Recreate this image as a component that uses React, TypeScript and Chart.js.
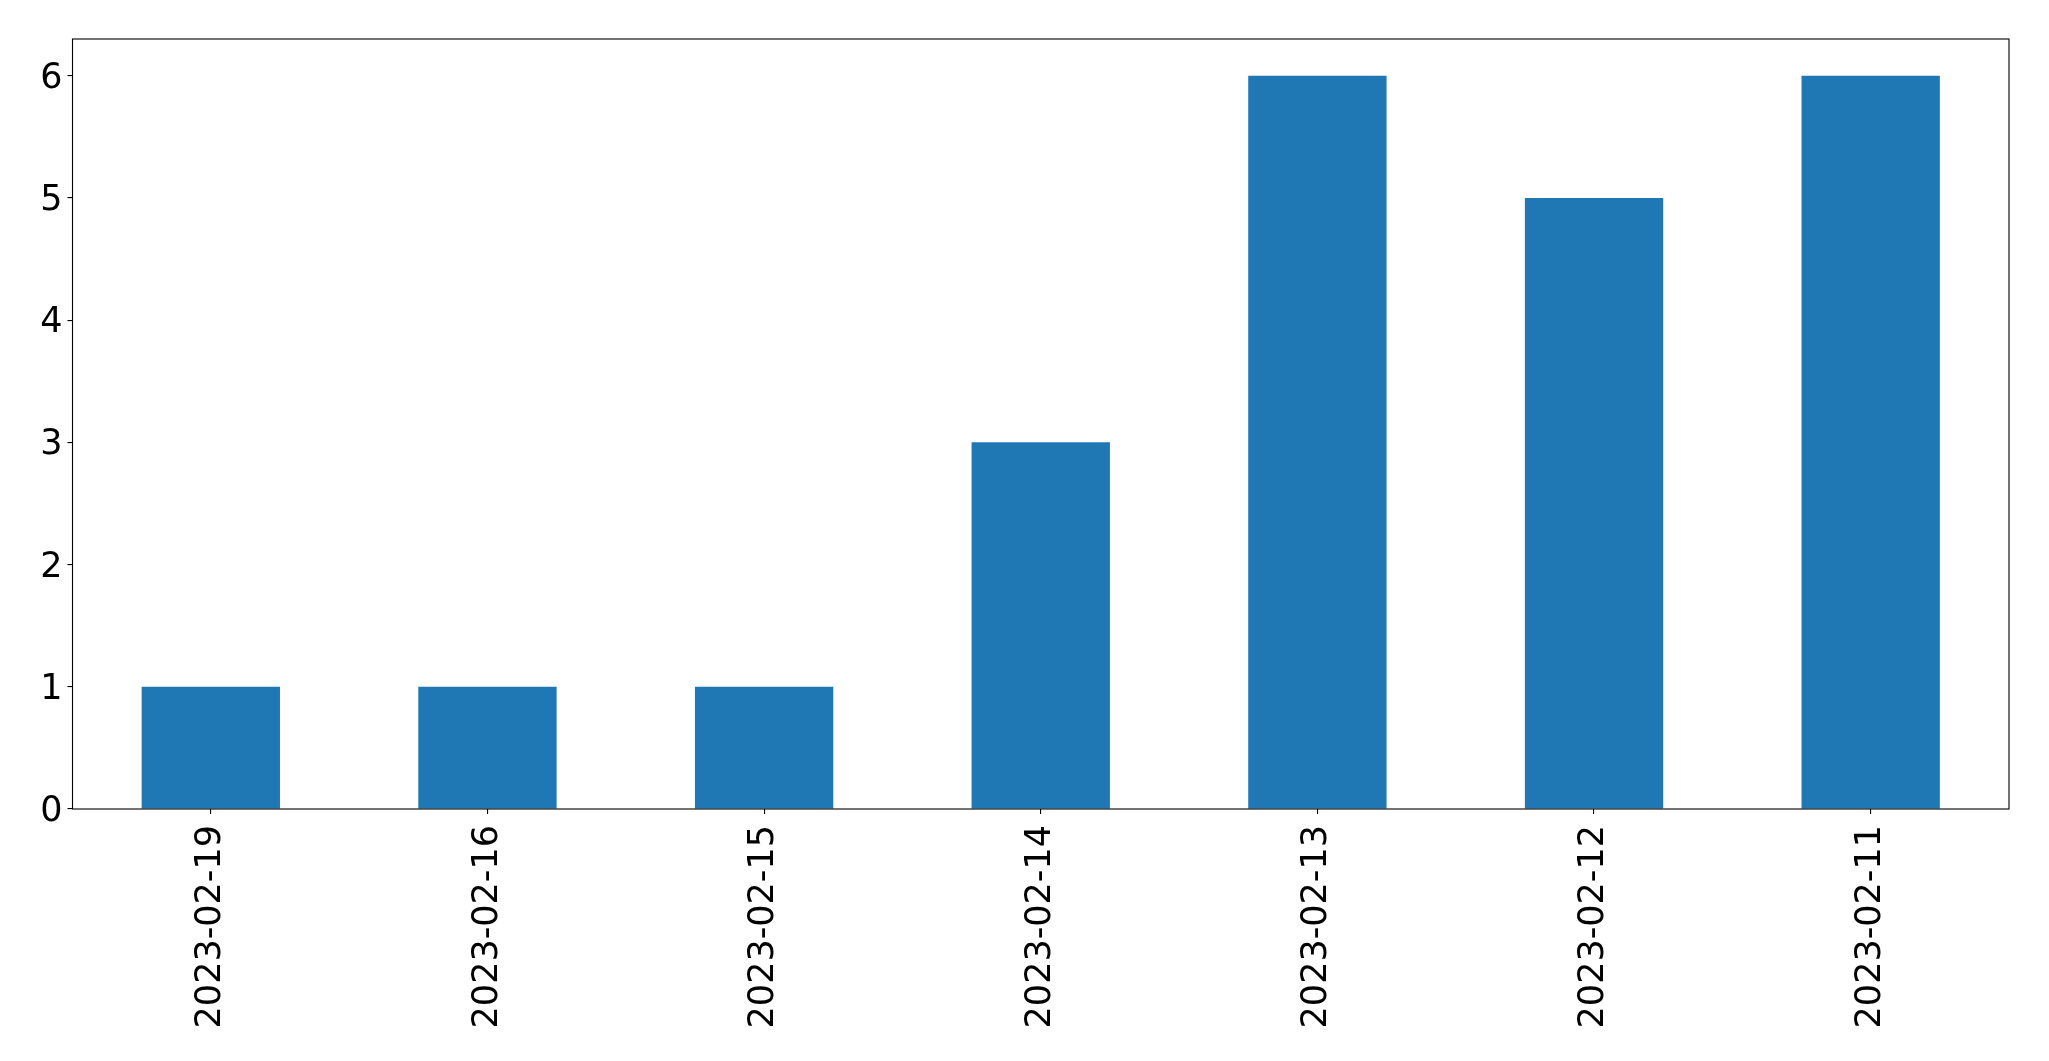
import React, { useEffect, useRef } from "react";
import { Chart, registerables } from "chart.js";

Chart.register(...registerables);

const categories = [
  "2023-02-19",
  "2023-02-16",
  "2023-02-15",
  "2023-02-14",
  "2023-02-13",
  "2023-02-12",
  "2023-02-11",
];
const counts = [1, 1, 1, 3, 6, 5, 6];
const yTicks = [0, 1, 2, 3, 4, 5, 6];
const yMax = 6.3;

const W = 2049;
const H = 1061;

const framePlugin = {
  id: "frame",
  afterDraw(chart: any) {
    const { ctx, chartArea } = chart;
    ctx.save();
    ctx.strokeStyle = "#000";
    ctx.lineWidth = 1.1;
    ctx.strokeRect(
      chartArea.left,
      chartArea.top,
      chartArea.right - chartArea.left,
      chartArea.bottom - chartArea.top
    );
    ctx.restore();
  },
};

export default function App() {
  const ref = useRef<HTMLCanvasElement | null>(null);

  useEffect(() => {
    if (!ref.current) return;
    const font = { family: "'DejaVu Sans', sans-serif", size: 35 };
    const chart = new Chart(ref.current, {
      type: "bar",
      data: {
        labels: categories,
        datasets: [
          {
            data: counts,
            backgroundColor: "#1f77b4",
            borderWidth: 0,
            barPercentage: 0.5,
            categoryPercentage: 1.0,
          },
        ],
      },
      options: {
        responsive: false,
        animation: false,
        devicePixelRatio: 1,
        layout: { padding: { top: 39, right: 40, left: 0, bottom: 0 } },
        plugins: {
          legend: { display: false },
          tooltip: { enabled: false },
        },
        scales: {
          x: {
            type: "category",
            offset: true,
            grid: {
              display: true,
              drawOnChartArea: false,
              drawTicks: true,
              tickLength: 5,
              offset: false,
              color: "#000",
              lineWidth: 1.1,
            },
            border: { display: false },
            ticks: {
              autoSkip: false,
              minRotation: 90,
              maxRotation: 90,
              padding: 11,
              color: "#000",
              font,
            },
            afterFit(scale: any) {
              scale.height = H - 809;
            },
          },
          y: {
            type: "linear",
            min: 0,
            max: yMax,
            grid: {
              display: true,
              drawOnChartArea: false,
              drawTicks: true,
              tickLength: 5,
              color: "#000",
              lineWidth: 1.1,
            },
            border: { display: false },
            ticks: {
              stepSize: 1,
              includeBounds: false,
              padding: 5,
              labelOffset: 3,
              color: "#000",
              font,
            },
            afterBuildTicks(scale: any) {
              scale.ticks = yTicks.map((v) => ({ value: v }));
            },
            afterFit(scale: any) {
              scale.width = 72.5;
            },
          },
        },
      },
      plugins: [framePlugin],
    });
    return () => chart.destroy();
  }, []);

  return (
    <div
      style={{
        position: "absolute",
        left: 0,
        top: 0,
        width: W,
        height: H,
        background: "#fff",
      }}
    >
      <canvas ref={ref} width={W} height={H} style={{ width: W, height: H, display: "block" }} />
    </div>
  );
}
